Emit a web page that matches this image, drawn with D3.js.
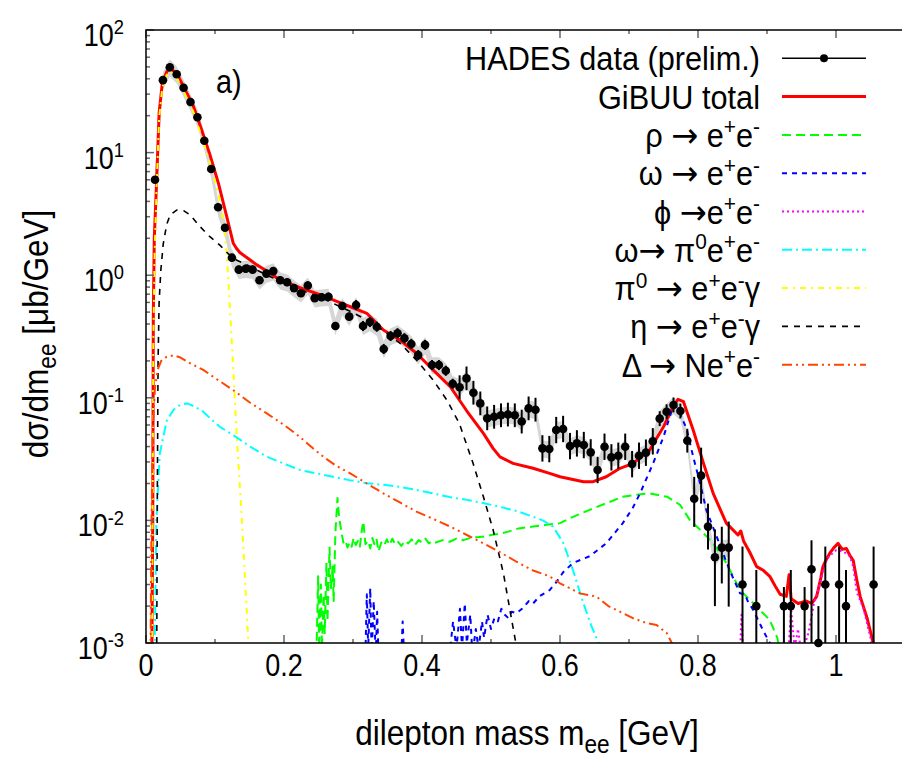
<!DOCTYPE html>
<meta charset="utf-8">
<style>
body { margin: 0; background: #fff; }
svg { display: block; font-family: "Liberation Sans", Arial, sans-serif; }
text { white-space: pre; }
</style>
<svg width="902" height="761"></svg>
<script src="https://d3js.org/d3.v7.min.js"></script>
<script>

// HADES data points (prelim.)
var dataMass = [0.013, 0.0245, 0.0345, 0.0445, 0.0545, 0.0645, 0.0745, 0.0845, 0.0945, 0.1045,
  0.1145, 0.1245, 0.1345, 0.1445, 0.1545, 0.1645, 0.1745, 0.1845, 0.1945, 0.2045,
  0.2145, 0.2245, 0.2345, 0.2445, 0.2545, 0.2645, 0.2745, 0.2845, 0.2945, 0.3045,
  0.3145, 0.3245, 0.3345, 0.3445, 0.3545, 0.3645, 0.3745, 0.3845, 0.3945, 0.4045,
  0.4145, 0.4245, 0.4345, 0.4445, 0.4545, 0.4645, 0.4745, 0.4845, 0.4945, 0.5045,
  0.5145, 0.5245, 0.5345, 0.5445, 0.5545, 0.5645, 0.5745, 0.5845, 0.5945, 0.6045,
  0.6145, 0.6245, 0.6345, 0.6445, 0.6545, 0.6645, 0.6745, 0.6845, 0.6945, 0.7045,
  0.7145, 0.7245, 0.7345, 0.7445, 0.7545, 0.7645, 0.7745, 0.7845, 0.7945, 0.8045,
  0.8145, 0.8245, 0.8345, 0.8445, 0.8645, 0.8845, 0.9245, 0.9345, 0.9545, 0.9645,
  0.9745, 0.9845, 1.0045, 1.0145, 1.0545];
var dataVal = [6.0, 39, 49.6, 43.5, 33.8, 25.9, 19.4, 12.5, 7.35, 3.58,
  2.44, 1.39, 1.11, 1.13, 1.11, 0.91, 1.03, 1.08, 0.91, 0.875,
  0.785, 0.713, 0.825, 0.65, 0.66, 0.668, 0.385, 0.561, 0.459, 0.571,
  0.385, 0.415, 0.38, 0.25, 0.319, 0.336, 0.306, 0.275, 0.223, 0.27,
  0.185, 0.185, 0.166, 0.13, 0.122, 0.144, 0.11, 0.09, 0.068, 0.07,
  0.072, 0.073, 0.072, 0.064, 0.082, 0.08, 0.0387, 0.0382, 0.0546, 0.0557,
  0.0404, 0.0425, 0.0412, 0.0359, 0.0258, 0.0399, 0.0327, 0.0337, 0.0399, 0.0288,
  0.0337, 0.0357, 0.0442, 0.0676, 0.077, 0.0874, 0.078, 0.0447, 0.015, 0.0232,
  0.0089, 0.005, 0.006, 0.006, 0.003, 0.002, 0.002, 0.002, 0.002, 0.004,
  0.001, 0.003, 0.003, 0.002, 0.003];
// relative error bar ends (down / up)
var errDn = [0.04, 0.04, 0.04, 0.04, 0.04, 0.04, 0.04, 0.04, 0.04, 0.04,
  0.04, 0.04, 0.07, 0.07, 0.07, 0.07, 0.07, 0.07, 0.07, 0.07,
  0.07, 0.07, 0.07, 0.07, 0.07, 0.07, 0.07, 0.07, 0.07, 0.09,
  0.09, 0.09, 0.09, 0.09, 0.09, 0.09, 0.09, 0.09, 0.09, 0.09,
  0.09, 0.09, 0.09, 0.09, 0.2, 0.2, 0.2, 0.2, 0.2, 0.2,
  0.2, 0.2, 0.2, 0.2, 0.2, 0.2, 0.22, 0.22, 0.22, 0.22,
  0.22, 0.22, 0.22, 0.22, 0.22, 0.22, 0.22, 0.22, 0.22, 0.22,
  0.22, 0.22, 0.22, 0.13, 0.13, 0.13, 0.13, 0.2, 0.41, 0.41,
  0.35, 0.6, 0.49, 0.67, 1, 1, 1, 1, 1, 1,
  1, 1, 1, 1, 1];
var errUp = [0.04, 0.04, 0.04, 0.04, 0.04, 0.04, 0.04, 0.04, 0.04, 0.04,
  0.04, 0.04, 0.08, 0.08, 0.08, 0.08, 0.08, 0.08, 0.08, 0.08,
  0.08, 0.08, 0.08, 0.08, 0.08, 0.08, 0.08, 0.08, 0.08, 0.1,
  0.1, 0.1, 0.1, 0.1, 0.1, 0.1, 0.1, 0.1, 0.1, 0.1,
  0.1, 0.1, 0.1, 0.1, 0.25, 0.25, 0.25, 0.25, 0.25, 0.25,
  0.25, 0.25, 0.25, 0.25, 0.25, 0.25, 0.28, 0.28, 0.28, 0.28,
  0.28, 0.28, 0.28, 0.28, 0.28, 0.28, 0.28, 0.28, 0.28, 0.28,
  0.28, 0.28, 0.28, 0.15, 0.15, 0.15, 0.15, 0.25, 0.51, 0.69,
  0.54, 0.69, 0.48, 0.63, 1.04, 0.97, 0.43, 0.97, 0.43, 0.72,
  1.0, 1.04, 1.04, 0.97, 1.04];
var sysRel = 0.16;

// GiBUU curves: [mass, dsigma/dm]
var gibuuTotal = [[0.0085,0.0008],[0.0098,0.01],[0.0106,0.46],[0.012,2.0],[0.0155,6],[0.019,21],[0.0236,36.7],
  [0.030,45.7],[0.0348,48.7],[0.0445,44.4],[0.0565,32.8],[0.0686,24],[0.0807,15.3],[0.0928,9.55],
  [0.105,5.6],[0.117,3.0],[0.1265,1.82],[0.131,1.66],[0.136,1.53],[0.151,1.33],[0.160,1.22],
  [0.175,1.08],[0.190,0.95],[0.205,0.87],[0.223,0.79],[0.247,0.711],[0.271,0.628],[0.296,0.553],
  [0.320,0.489],[0.344,0.357],[0.368,0.296],[0.392,0.231],[0.416,0.169],[0.441,0.123],[0.465,0.078],
  [0.489,0.0513],[0.503,0.0387],[0.513,0.033],[0.532,0.0292],[0.561,0.0266],[0.585,0.0242],
  [0.600,0.0227],[0.634,0.0207],[0.648,0.0207],[0.667,0.0227],[0.687,0.0266],[0.706,0.0292],
  [0.730,0.0375],[0.750,0.058],[0.764,0.0846],[0.771,0.0973],[0.779,0.093],[0.793,0.0546],
  [0.808,0.0292],[0.822,0.0166],[0.841,0.0095],[0.858,0.0076],[0.862,0.0082],[0.866,0.0068],
  [0.875,0.0055],[0.885,0.0042],[0.895,0.0039],[0.904,0.0035],[0.912,0.0029],[0.919,0.0025],
  [0.928,0.0024],[0.932,0.0036],[0.935,0.0023],[0.945,0.0021],[0.957,0.0022],[0.965,0.0021],
  [0.972,0.0024],[0.978,0.0034],[0.981,0.0042],[0.986,0.0048],[0.991,0.0054],[0.997,0.006],
  [1.003,0.0065],[1.009,0.0058],[1.015,0.0059],[1.020,0.0052],[1.025,0.0047],[1.030,0.0033],
  [1.035,0.0024],[1.045,0.0016],[1.054,0.001],[1.058,0.0008]];
var rhoEE = [[0.247,0.0008],[0.2495,0.0035],[0.251,0.0009],[0.2535,0.003],[0.255,0.0009],[0.2575,0.0025],
  [0.259,0.0012],[0.2615,0.0045],[0.263,0.0015],[0.266,0.006],[0.268,0.0028],[0.2705,0.0042],[0.272,0.0022],
  [0.2745,0.008],[0.2775,0.0152],[0.280,0.0105],[0.283,0.0082],[0.286,0.0066],[0.289,0.0069],[0.292,0.006],
  [0.295,0.0066],[0.298,0.0061],[0.301,0.0072],[0.304,0.0063],[0.307,0.0068],[0.31,0.0061],[0.313,0.0085],
  [0.315,0.0098],[0.318,0.0064],[0.322,0.0068],[0.325,0.0059],[0.328,0.0072],[0.331,0.0064],[0.334,0.0071],
  [0.337,0.0056],[0.341,0.0066],[0.345,0.0062],[0.349,0.007],[0.353,0.0063],[0.357,0.0071],[0.361,0.0064],
  [0.365,0.0067],[0.37,0.0062],[0.375,0.0068],[0.38,0.0065],[0.385,0.007],[0.39,0.0063],[0.395,0.0069],
  [0.40,0.0066],[0.405,0.0071],[0.41,0.0065],[0.415,0.0068],[0.42,0.0066],[0.43,0.0069],[0.44,0.0067],
  [0.45,0.0071],[0.46,0.0069],[0.47,0.0072],[0.48,0.0073],[0.49,0.0074],[0.50,0.0076],[0.513,0.0078],
  [0.525,0.0081],[0.54,0.0086],[0.561,0.0089],[0.58,0.0092],[0.60,0.0095],[0.619,0.0107],[0.643,0.0122],
  [0.667,0.0138],[0.691,0.0156],[0.71,0.0162],[0.73,0.0166],[0.755,0.0156],[0.774,0.0134],[0.788,0.0101],
  [0.803,0.0084],[0.822,0.0065],[0.841,0.0045],[0.861,0.0027],[0.885,0.00198],[0.904,0.00154],
  [0.915,0.0011],[0.919,0.0008]];
var omegaEE = [[0.318,0.0008],[0.32,0.0025],[0.322,0.0009],[0.325,0.0028],[0.327,0.0008],[0.33,0.0022],
  [0.333,0.0008],[0.335,0.0018],[0.337,0.0008],[0.37,0.0008],[0.372,0.0015],[0.374,0.0008],[0.44,0.0008],
  [0.445,0.0015],[0.45,0.0009],[0.455,0.0019],[0.458,0.0009],[0.462,0.0021],[0.465,0.001],[0.47,0.0017],
  [0.473,0.0008],[0.478,0.0013],[0.482,0.0009],[0.487,0.0015],[0.49,0.0011],[0.495,0.0017],[0.5,0.0013],
  [0.505,0.0016],[0.51,0.0015],[0.515,0.0019],[0.52,0.0017],[0.525,0.0016],[0.53,0.0018],[0.537,0.00175],
  [0.545,0.0019],[0.555,0.0022],[0.561,0.0021],[0.57,0.0024],[0.585,0.0027],[0.594,0.0031],[0.605,0.0038],
  [0.619,0.0045],[0.643,0.0051],[0.667,0.0065],[0.691,0.0095],[0.705,0.0125],[0.716,0.0166],[0.735,0.0292],
  [0.75,0.048],[0.762,0.079],[0.767,0.087],[0.774,0.0747],[0.784,0.0546],[0.793,0.0331],[0.803,0.0201],
  [0.812,0.0122],[0.827,0.0074],[0.846,0.0039],[0.861,0.00254],[0.868,0.0025],[0.872,0.0022],
  [0.880,0.00186],[0.894,0.00128],[0.904,0.001],[0.906,0.0008]];
var phiEE = [[0.860,0.0006],[0.863,0.0017],[0.867,0.0006],[0.930,0.0007],[0.935,0.0019],[0.940,0.0009],
  [0.945,0.0013],[0.950,0.0008],[0.960,0.0012],[0.968,0.0021],[0.975,0.0028],[0.980,0.0036],[0.985,0.0046],
  [0.990,0.0051],[1.000,0.0057],[1.010,0.0056],[1.020,0.0051],[1.025,0.0042],[1.030,0.0026],[1.040,0.0019],
  [1.050,0.0011],[1.055,0.0007]];
var omegaDalitz = [[0.0125,0.0008],[0.015,0.01],[0.02,0.035],[0.03,0.065],[0.04,0.08],[0.05,0.088],[0.06,0.09],
  [0.07,0.085],[0.083,0.077],[0.093,0.068],[0.107,0.058],[0.126,0.0498],[0.151,0.040],[0.175,0.0331],
  [0.2,0.029],[0.223,0.0258],[0.25,0.024],[0.271,0.0227],[0.295,0.0213],[0.32,0.0201],[0.345,0.0195],
  [0.368,0.0188],[0.39,0.0178],[0.416,0.0166],[0.44,0.0155],[0.465,0.0147],[0.49,0.0138],[0.513,0.0129],
  [0.54,0.0118],[0.561,0.0107],[0.575,0.0100],[0.59,0.0089],[0.605,0.0065],[0.619,0.0039],[0.634,0.0021],
  [0.645,0.0014],[0.656,0.001],[0.658,0.0009]];
var pi0Dalitz = [[0.0088,0.0008],[0.0106,0.3],[0.0125,1.5],[0.0155,5.5],[0.019,19],[0.0236,34],[0.030,43],
  [0.0348,46],[0.0445,41],[0.0565,30],[0.0686,21.5],[0.0807,13.5],[0.0928,8.2],[0.105,4.6],[0.112,2.8],
  [0.117,1.5],[0.122,0.5],[0.127,0.15],[0.131,0.055],[0.139,0.01],[0.148,0.0011],[0.150,0.0008]];
var etaDalitz = [[0.0155,0.0008],[0.0165,0.02],[0.0175,0.2],[0.019,0.6],[0.0215,1.1],[0.025,1.8],[0.03,2.6],
  [0.035,3.1],[0.0445,3.4],[0.055,3.35],[0.064,3.1],[0.078,2.5],[0.093,2.05],[0.107,1.76],[0.119,1.5],
  [0.131,1.33],[0.141,1.25],[0.151,1.18],[0.175,1.0],[0.2,0.87],[0.223,0.76],[0.25,0.67],[0.271,0.59],
  [0.295,0.51],[0.32,0.431],[0.345,0.35],[0.368,0.279],[0.392,0.203],[0.416,0.140],[0.436,0.096],
  [0.454,0.062],[0.474,0.0292],[0.489,0.0156],[0.503,0.0084],[0.518,0.0037],[0.530,0.00154],[0.536,0.001],
  [0.537,0.0008]];
var deltaDalitz = [[0.0065,0.0008],[0.008,0.01],[0.01,0.06],[0.013,0.12],[0.017,0.17],[0.022,0.2],[0.03,0.216],
  [0.04,0.222],[0.05,0.213],[0.065,0.19],[0.083,0.169],[0.1,0.145],[0.126,0.116],[0.15,0.092],[0.175,0.0747],
  [0.2,0.06],[0.223,0.048],[0.242,0.0387],[0.257,0.0331],[0.275,0.028],[0.296,0.0242],[0.32,0.02],
  [0.344,0.0166],[0.368,0.014],[0.392,0.0118],[0.416,0.0103],[0.441,0.0089],[0.465,0.0076],[0.489,0.0065],
  [0.513,0.0055],[0.537,0.0046],[0.561,0.0039],[0.585,0.0035],[0.600,0.00307],[0.629,0.00254],
  [0.653,0.00239],[0.67,0.002],[0.687,0.0018],[0.705,0.0016],[0.726,0.00145],[0.74,0.0014],[0.755,0.0012],
  [0.762,0.001],[0.764,0.0008]];

var xTicks = [0, 0.2, 0.4, 0.6, 0.8, 1];
var xTickLabels = ["0", "0.2", "0.4", "0.6", "0.8", "1"];
var yExponents = [-3, -2, -1, 0, 1, 2];

// legend labels, parts: [text, "sup"|"sub"|"arr"|undefined]
var legendLabels = [
  [["HADES data (prelim.)"]],
  [["GiBUU total"]],
  [["\u03c1 "], ["\u2192", "arr"], [" e"], ["+", "sup"], ["e"], ["-", "sup"]],
  [["\u03c9 "], ["\u2192", "arr"], [" e"], ["+", "sup"], ["e"], ["-", "sup"]],
  [["\u03d5 "], ["\u2192", "arr"], ["e"], ["+", "sup"], ["e"], ["-", "sup"]],
  [["\u03c9"], ["\u2192", "arr"], [" \u03c0"], ["0", "sup"], ["e"], ["+", "sup"], ["e"], ["-", "sup"]],
  [["\u03c0"], ["0", "sup"], [" "], ["\u2192", "arr"], [" e"], ["+", "sup"], ["e"], ["-", "sup"], ["\u03b3"]],
  [["\u03b7 "], ["\u2192", "arr"], [" e"], ["+", "sup"], ["e"], ["-", "sup"], ["\u03b3"]],
  [["\u0394 "], ["\u2192", "arr"], [" Ne"], ["+", "sup"], ["e"], ["-", "sup"]]
];

var svg = d3.select("svg"),
    margin = {top: 30, left: 146, bottom: 118},
    height = +svg.attr("height") - margin.bottom;

var x = d3.scaleLinear().domain([0, 1.1]).range([margin.left, 905]);
var y = d3.scaleLog().domain([1e-3, 1e2]).range([height, margin.top]);

svg.append("defs").append("clipPath").attr("id", "plotclip")
  .append("rect")
    .attr("x", x(0)).attr("y", y(1e2))
    .attr("width", x(1.1) - x(0)).attr("height", y(1e-3) - y(1e2));

var styles = {
  total: {color: "#ff0000", width: 3, dash: null},
  rho: {color: "#00ff00", width: 2, dash: "9,5"},
  omega: {color: "#0000ff", width: 2, dash: "5,5"},
  phi: {color: "#ff00ff", width: 2, dash: "2,3"},
  omegaD: {color: "#00ffff", width: 2, dash: "10,4,2,4"},
  pi0: {color: "#ffff00", width: 2, dash: "6,5,2,5"},
  eta: {color: "#000000", width: 1.6, dash: "6,6"},
  delta: {color: "#ff4500", width: 2, dash: "10,4,2,4,2,4"}
};

var plot = svg.append("g").attr("clip-path", "url(#plotclip)");

// systematic band (only where the lower error stays above the axis)
var pts = dataMass.map(function(m, i) { return [m, dataVal[i], errDn[i]]; });
plot.append("path")
  .datum(pts)
  .attr("fill", "#d6d6d6")
  .attr("d", d3.area()
    .defined(function(d) { return d[2] < 1; })
    .x(function(d) { return x(d[0]); })
    .y0(function(d) { return y(d[1] * (1 - sysRel)); })
    .y1(function(d) { return y(d[1] * (1 + sysRel)); }));

var line = d3.line()
  .x(function(d) { return x(d[0]); })
  .y(function(d) { return y(d[1]); });

function drawCurve(data, st) {
  plot.append("path")
    .datum(data)
    .attr("fill", "none")
    .attr("stroke", st.color)
    .attr("stroke-width", st.width)
    .attr("stroke-dasharray", st.dash)
    .attr("stroke-linejoin", "round")
    .attr("d", line);
}

drawCurve(gibuuTotal, styles.total);
drawCurve(rhoEE, styles.rho);
drawCurve(omegaEE, styles.omega);
drawCurve(phiEE, styles.phi);
drawCurve(omegaDalitz, styles.omegaD);
drawCurve(pi0Dalitz, styles.pi0);
drawCurve(etaDalitz, styles.eta);
drawCurve(deltaDalitz, styles.delta);

// frame and ticks
var axes = svg.append("g");
var tickCol = "#666";
var xMinor = [0.1, 0.3, 0.5, 0.7, 0.9];
xTicks.forEach(function(t) {
  axes.append("line").attr("x1", x(t)).attr("x2", x(t)).attr("y1", y(1e-3)).attr("y2", y(1e-3) - 8).attr("stroke", tickCol).attr("stroke-width", 1.5);
  axes.append("line").attr("x1", x(t)).attr("x2", x(t)).attr("y1", y(1e2)).attr("y2", y(1e2) + 8).attr("stroke", tickCol).attr("stroke-width", 1.5);
});
xMinor.forEach(function(t) {
  axes.append("line").attr("x1", x(t)).attr("x2", x(t)).attr("y1", y(1e-3)).attr("y2", y(1e-3) - 4).attr("stroke", tickCol).attr("stroke-width", 1.5);
  axes.append("line").attr("x1", x(t)).attr("x2", x(t)).attr("y1", y(1e2)).attr("y2", y(1e2) + 4).attr("stroke", tickCol).attr("stroke-width", 1.5);
});
yExponents.forEach(function(e) {
  var base = Math.pow(10, e);
  axes.append("line").attr("x1", x(0)).attr("x2", x(0) + 8).attr("y1", y(base)).attr("y2", y(base)).attr("stroke", tickCol).attr("stroke-width", 1.5);
  if (e < 2) {
    for (var k = 2; k < 10; k++) {
      axes.append("line").attr("x1", x(0)).attr("x2", x(0) + 4).attr("y1", y(k * base)).attr("y2", y(k * base)).attr("stroke", tickCol).attr("stroke-width", 1.5);
    }
  }
});

axes.append("path")
  .attr("fill", "none")
  .attr("stroke", "#000")
  .attr("stroke-width", 1.5)
  .attr("d", "M" + x(1.1) + "," + y(1e2) + "H" + x(0) + "V" + y(1e-3) + "H" + x(1.1));

// error bars and points
var pg = svg.append("g");
dataMass.forEach(function(m, i) {
  var v = dataVal[i];
  var lo = v * (1 - errDn[i]), hi = v * (1 + errUp[i]);
  var ylo = lo > 1e-3 ? y(lo) : y(1e-3);
  pg.append("line")
    .attr("x1", x(m)).attr("x2", x(m))
    .attr("y1", ylo).attr("y2", y(hi))
    .attr("stroke", "#000").attr("stroke-width", 2);
  pg.append("circle")
    .attr("cx", x(m)).attr("cy", y(v)).attr("r", 4.3)
    .attr("fill", "#000");
});

// rich text helper: condensed look via horizontal scale
function rich(parent, tx, ty, parts, size, sx, anchor, rot) {
  var g = parent.append("g")
    .attr("transform", "translate(" + tx + "," + ty + ")" + (rot ? " rotate(" + rot + ")" : "") + " scale(" + sx + ",1)");
  var t = g.append("text").attr("font-size", size).attr("text-anchor", anchor).attr("fill", "#000");
  var cur = 0;
  parts.forEach(function(p) {
    var fs = size, off = 0;
    if (p[1] === "sup") { fs = size * 0.68; off = -size * 0.38; }
    if (p[1] === "sub") { fs = size * 0.72; off = size * 0.22; }
    var ts = t.append("tspan").attr("font-size", fs).attr("dy", off - cur).text(p[0]);
    if (p[1] === "arr") ts.attr("font-family", "DejaVu Sans").attr("font-size", size * 1.05);
    cur = off;
  });
  return t;
}

// tick labels
xTicks.forEach(function(t, i) {
  rich(svg, x(t), 676, [[xTickLabels[i]]], 31, 0.87, "middle");
});
yExponents.forEach(function(e) {
  rich(svg, 124, y(Math.pow(10, e)) + 16, [["10"], [String(e), "sup"]], 31, 0.87, "end");
});

// axis titles
rich(svg, 527, 745, [["dilepton mass m"], ["ee", "sub"], [" [GeV]"]], 35, 0.9, "middle");
rich(svg, 48, 334, [["d\u03c3/dm"], ["ee", "sub"], [" [\u03bcb/GeV]"]], 35, 0.9, "middle", -90);
rich(svg, 216, 93, [["a)"]], 34, 0.85, "start");

// legend
var legendStyles = [null, styles.total, styles.rho, styles.omega, styles.phi, styles.omegaD, styles.pi0, styles.eta, styles.delta];
var lg = svg.append("g");
legendLabels.forEach(function(parts, i) {
  var ry = 58.3 + i * 38.3;
  rich(lg, 760, ry + 12, parts, 33, 0.93, "end");
  var st = legendStyles[i];
  if (st) {
    lg.append("line")
      .attr("x1", 782).attr("x2", 866).attr("y1", ry).attr("y2", ry)
      .attr("stroke", st.color).attr("stroke-width", st.width)
      .attr("stroke-dasharray", st.dash);
  } else {
    lg.append("line")
      .attr("x1", 782).attr("x2", 866).attr("y1", ry).attr("y2", ry)
      .attr("stroke", "#000").attr("stroke-width", 1.5);
    lg.append("circle").attr("cx", 824).attr("cy", ry).attr("r", 4).attr("fill", "#000");
  }
});

</script>
